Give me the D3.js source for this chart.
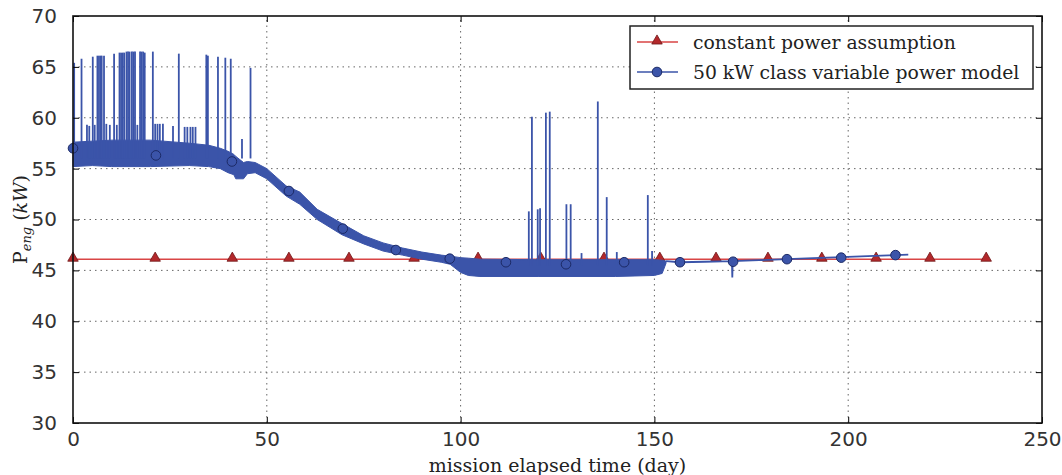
<!DOCTYPE html>
<html>
<head>
<meta charset="utf-8">
<script src="https://cdn.jsdelivr.net/npm/d3@7"></script>
<style>
  body { margin: 0; background: #fff; }
  svg text { font-family: "DejaVu Serif", serif; }
  .tick text { font-family: "DejaVu Sans", sans-serif; fill: #333; }
</style>
</head>
<body>
<div id="container"></div>
<script>
const width = 1062;
const height = 475;
const marginTop = 16;
const marginRight = 20;
const marginBottom = 52;
const marginLeft = 73;

const xTicks = [0, 50, 100, 150, 200, 250];
const yTicks = [30, 35, 40, 45, 50, 55, 60, 65, 70];

// constant power assumption
const constDays = [0, 21.2, 41.1, 55.7, 71.2, 88, 104.5, 120.7, 137, 151.4, 165.9, 179.3, 193.2, 207.2, 221.1, 235.6];
const constPower = 46.1;

// variable power model: envelope of the dense oscillating trace
const bandDay  = [0, 5, 10, 20, 30, 35, 38, 40, 41.5, 42, 44, 45, 47, 50, 55, 58.5, 63, 69.4, 75, 80, 85, 90, 95, 97.3, 100, 102, 105, 120, 140, 150, 152, 153];
const bandHigh = [57.6, 57.7, 57.8, 57.8, 57.5, 57.3, 57.0, 56.7, 56.4, 56.2, 55.6, 55.7, 55.6, 55.0, 53.3, 52.7, 51.0, 49.6, 48.4, 47.7, 47.2, 46.8, 46.5, 46.4, 46.25, 46.2, 46.1, 46.05, 46.05, 46.05, 46.0, 45.9];
const bandLow  = [55.2, 55.3, 55.2, 55.2, 55.3, 55.2, 55.0, 54.6, 54.4, 54.0, 54.0, 54.5, 54.6, 54.0, 52.3, 51.5, 50.0, 48.5, 47.6, 46.9, 46.5, 46.1, 45.8, 45.6, 44.8, 44.5, 44.4, 44.4, 44.4, 44.5, 44.7, 45.7];

// thin trace after the band
const tailDay   = [153, 156.6, 163, 170, 170.1, 170.2, 177, 184.2, 191, 198.2, 205, 212.2, 215.5];
const tailPower = [45.9, 45.8, 45.85, 45.9, 44.3, 45.9, 46.0, 46.1, 46.2, 46.3, 46.4, 46.5, 46.55];

// spikes (day, peak kW)
const earlySpikes = [[0.3,65.4],[2.2,65.8],[3.6,59.3],[4.2,59.2],[5.1,66.0],[5.6,59.3],[6.3,66.1],[6.7,66.1],[7.1,66.1],[7.4,66.1],[8.0,66.1],[8.6,59.4],[9.5,59.3],[10.6,66.3],[11.3,59.3],[12.0,66.4],[12.4,66.4],[12.8,66.4],[13.2,66.4],[13.8,66.5],[14.2,66.5],[14.6,66.5],[15.2,66.5],[15.6,66.5],[16.0,66.5],[16.6,59.3],[17.3,66.5],[17.7,66.5],[18.1,66.5],[18.5,66.4],[20.6,66.5],[21.2,59.4],[21.8,59.4],[22.4,59.4],[23.2,59.4],[25.8,59.2],[27.3,66.3],[28.8,59.1],[29.5,59.1],[30.3,59.1],[30.9,59.1],[31.6,59.1],[34.4,66.2],[34.8,66.1],[37.4,66.0],[39.3,65.9],[40.7,65.8],[43.6,57.9],[45.8,64.9]];
const midSpikes = [[117.6,50.8],[118.4,60.1],[119.9,51.0],[120.5,51.1],[122.0,60.5],[123.0,60.6],[127.3,51.5],[128.4,51.5],[131.2,46.7],[135.4,61.6],[137.7,52.2],[140.3,46.8],[148.3,52.4],[149.4,46.9]];

// circle markers of the variable model
const markDay   = [0, 21.4, 41, 55.7, 69.6, 83.3, 97.2, 111.7, 127.2, 142.2, 156.6, 170.3, 184.2, 198.2, 212.2];
const markPower = [57.0, 56.3, 55.7, 52.8, 49.1, 47.0, 46.15, 45.8, 45.6, 45.8, 45.8, 45.85, 46.1, 46.25, 46.5];

const legendLabels = ["constant power assumption", "50 kW class variable power model"];

const red = "#d94545";
const redMark = "#b3282b";
const blue = "#3b54a9";
const navy = "#1c2a66";

const x = d3.scaleLinear().domain([0, 250]).range([marginLeft, width - marginRight]);
const y = d3.scaleLinear().domain([30, 70]).range([height - marginBottom, marginTop]);

const svg = d3.create("svg")
  .attr("width", width)
  .attr("height", height)
  .attr("viewBox", [0, 0, width, height]);

// grid
svg.append("g")
  .selectAll("line")
  .data(xTicks.slice(1, -1))
  .join("line")
    .attr("x1", d => x(d)).attr("x2", d => x(d))
    .attr("y1", y(30)).attr("y2", y(70))
    .attr("stroke", "#666").attr("stroke-dasharray", "1.5,4");
svg.append("g")
  .selectAll("line")
  .data(yTicks.slice(1, -1))
  .join("line")
    .attr("y1", d => y(d)).attr("y2", d => y(d))
    .attr("x1", x(0)).attr("x2", x(250))
    .attr("stroke", "#666").attr("stroke-dasharray", "1.5,4");

// constant power line
svg.append("line")
  .attr("x1", x(constDays[0])).attr("x2", x(constDays[constDays.length - 1]))
  .attr("y1", y(constPower)).attr("y2", y(constPower))
  .attr("stroke", red).attr("stroke-width", 1.6);

const tri = d3.symbol().type(d3.symbolTriangle).size(48);
svg.append("g")
  .selectAll("path")
  .data(constDays)
  .join("path")
    .attr("d", tri)
    .attr("transform", d => `translate(${x(d)},${y(constPower) - 1})`)
    .attr("fill", redMark).attr("stroke", "#6e1618").attr("stroke-width", 0.8);

// variable power band
const band = bandDay.map((d, i) => ({day: d, lo: bandLow[i], hi: bandHigh[i]}));
svg.append("path")
  .datum(band)
  .attr("fill", blue)
  .attr("stroke", blue)
  .attr("stroke-width", 1)
  .attr("d", d3.area().x(d => x(d.day)).y0(d => y(d.lo)).y1(d => y(d.hi)));

svg.append("g")
  .attr("stroke", blue).attr("stroke-width", 1.8)
  .selectAll("line")
  .data(earlySpikes)
  .join("line")
    .attr("x1", d => x(d[0])).attr("x2", d => x(d[0]))
    .attr("y1", y(56)).attr("y2", d => y(d[1]));

svg.append("g")
  .attr("stroke", blue).attr("stroke-width", 1.8)
  .selectAll("line")
  .data(midSpikes)
  .join("line")
    .attr("x1", d => x(d[0])).attr("x2", d => x(d[0]))
    .attr("y1", y(45.5)).attr("y2", d => y(d[1]));

svg.append("path")
  .datum(tailDay.map((d, i) => [d, tailPower[i]]))
  .attr("fill", "none")
  .attr("stroke", blue).attr("stroke-width", 1.8)
  .attr("d", d3.line().x(d => x(d[0])).y(d => y(d[1])));

svg.append("g")
  .selectAll("circle")
  .data(markDay.map((d, i) => [d, markPower[i]]))
  .join("circle")
    .attr("cx", d => x(d[0])).attr("cy", d => y(d[1]))
    .attr("r", 4.8)
    .attr("fill", blue).attr("stroke", navy).attr("stroke-width", 1);

// axes, ticks pointing inward on all four sides
const style = g => {
  g.select(".domain").remove();
  g.selectAll(".tick line").attr("stroke", "#000");
  g.selectAll(".tick text").attr("font-size", 20);
};
svg.append("g")
  .attr("transform", `translate(0,${y(30)})`)
  .call(d3.axisBottom(x).tickValues(xTicks).tickSize(-6).tickPadding(9))
  .call(style);
svg.append("g")
  .attr("transform", `translate(${x(0)},0)`)
  .call(d3.axisLeft(y).tickValues(yTicks).tickSize(-6).tickPadding(16))
  .call(style);
svg.append("g")
  .attr("transform", `translate(0,${y(70)})`)
  .call(d3.axisTop(x).tickValues(xTicks).tickSize(-6).tickFormat(""))
  .call(style);
svg.append("g")
  .attr("transform", `translate(${x(250)},0)`)
  .call(d3.axisRight(y).tickValues(yTicks).tickSize(-6).tickFormat(""))
  .call(style);

svg.append("rect")
  .attr("x", x(0)).attr("y", y(70))
  .attr("width", x(250) - x(0)).attr("height", y(30) - y(70))
  .attr("fill", "none").attr("stroke", "#111").attr("stroke-width", 1.6);

// legend
const lg = svg.append("g").attr("transform", "translate(630,26)");
lg.append("rect")
  .attr("width", 403).attr("height", 63)
  .attr("fill", "#fff").attr("stroke", "#222").attr("stroke-width", 1.5);
legendLabels.forEach((label, i) => {
  const row = lg.append("g").attr("transform", `translate(0,${16 + i * 30})`);
  row.append("line")
    .attr("x1", 7).attr("x2", 48)
    .attr("stroke", i === 0 ? red : blue).attr("stroke-width", 1.6);
  if (i === 0) {
    row.append("path").attr("d", tri).attr("transform", "translate(27,-1)")
      .attr("fill", redMark).attr("stroke", "#6e1618").attr("stroke-width", 0.8);
  } else {
    row.append("circle").attr("cx", 27).attr("r", 4.8)
      .attr("fill", blue).attr("stroke", navy);
  }
  row.append("text")
    .attr("x", 63).attr("dy", "0.35em")
    .attr("font-size", 18.8).attr("fill", "#222")
    .text(label);
});

// axis labels
svg.append("text")
  .attr("x", (x(0) + x(250)) / 2).attr("y", 472)
  .attr("text-anchor", "middle").attr("font-size", 19).attr("fill", "#222")
  .text("mission elapsed time (day)");

const yl = svg.append("text")
  .attr("transform", `translate(27,${(y(30) + y(70)) / 2}) rotate(-90)`)
  .attr("text-anchor", "middle").attr("font-size", 19).attr("fill", "#222");
yl.append("tspan").text("P");
yl.append("tspan").attr("font-size", 13).attr("font-style", "italic").attr("dy", 4).text("eng");
yl.append("tspan").attr("dy", -4).text(" (");
yl.append("tspan").attr("font-style", "italic").text("kW");
yl.append("tspan").text(")");

document.getElementById("container").appendChild(svg.node());
</script>
</body>
</html>
